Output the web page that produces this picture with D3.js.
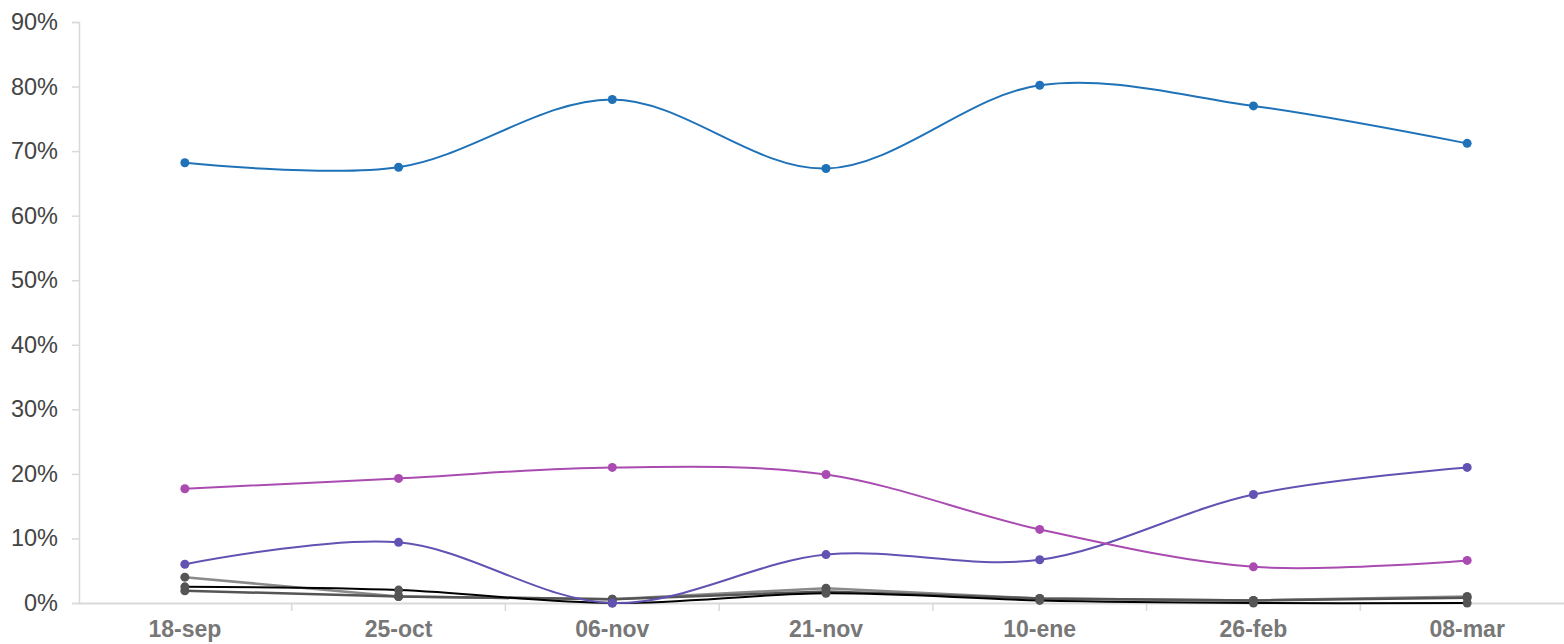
<!DOCTYPE html>
<html><head><meta charset="utf-8">
<script src="https://cdn.jsdelivr.net/npm/d3@7"></script>
<style>body{margin:0;background:#fff;font-family:Arial,"Liberation Sans",sans-serif}</style>
</head><body><svg id="c" width="1564" height="644"></svg>
<script>
const categories = ["18-sep","25-oct","06-nov","21-nov","10-ene","26-feb","08-mar"];
const blueSeries = [68.2,67.5,78.0,67.3,80.2,77.0,71.2];
const magentaSeries = [17.7,19.3,21.0,19.9,11.4,5.6,6.6];
const purpleSeries = [6.0,9.4,0.0,7.5,6.7,16.8,21.0];
const lightGraySeries = [4.0,1.0,0.6,2.3,0.7,0.4,1.0];
const darkGraySeries = [1.9,1.0,0.6,1.8,0.7,0.4,0.8];
const blackSeries = [2.5,2.0,0.0,1.5,0.4,0.0,0.0];
const yTicks = [0,10,20,30,40,50,60,70,80,90];

const svg = d3.select("#c");
const x = d3.scaleBand().domain(categories).range([78,1574]);
const y = d3.scaleLinear().domain([0,90]).range([603,22]);
const cx = d => x(d) + x.bandwidth()/2;

// y axis
const yAxis = svg.append("g").attr("transform","translate(79,0)")
  .call(d3.axisLeft(y).tickValues(yTicks).tickFormat(d=>d+"%").tickSize(7).tickPadding(14));
yAxis.select(".domain").attr("stroke","#d9d9d9").attr("stroke-width",1.5);
yAxis.selectAll(".tick line").attr("stroke","#d9d9d9").attr("stroke-width",1.5);
yAxis.selectAll(".tick text").attr("fill","#444").style("font-size","23.5px").style("font-family","Arial, Liberation Sans, sans-serif");

// x axis
const xAxis = svg.append("g").attr("transform","translate(0,603)")
  .call(d3.axisBottom(x).tickSize(0).tickPadding(18));
xAxis.select(".domain").attr("stroke","#d9d9d9").attr("stroke-width",2);
xAxis.selectAll(".tick text").attr("fill","#777").style("font-size","23px").style("font-weight","bold").style("font-family","Arial, Liberation Sans, sans-serif");
// separator ticks between categories
svg.append("g").selectAll("line").data(categories.slice(1)).join("line")
  .attr("x1",d=>x(d)).attr("x2",d=>x(d)).attr("y1",603).attr("y2",611)
  .attr("stroke","#d9d9d9").attr("stroke-width",1.5);

const series = [
  {vals:lightGraySeries, color:"#8a8a8a", marker:"#555", curve:d3.curveLinear, w:2.5},
  {vals:darkGraySeries, color:"#555", marker:"#555", curve:d3.curveLinear, w:2.5},
  {vals:blackSeries, color:"#000", marker:"#555", curve:d3.curveCatmullRom.alpha(0.5), w:2},
  {vals:purpleSeries, color:"#6152b3", marker:"#6152b3", curve:d3.curveCatmullRom.alpha(0.5), w:2},
  {vals:magentaSeries, color:"#a94bb0", marker:"#a94bb0", curve:d3.curveCatmullRom.alpha(0.5), w:2},
  {vals:blueSeries, color:"#1f72b8", marker:"#1f72b8", curve:d3.curveCatmullRom.alpha(0.5), w:2}
];
series.forEach(s=>{
  const pts = categories.map((c,i)=>[cx(c), y(s.vals[i])]);
  svg.append("path").attr("d", d3.line().curve(s.curve)(pts))
    .attr("fill","none").attr("stroke",s.color).attr("stroke-width",s.w);
  svg.append("g").selectAll("circle").data(pts).join("circle")
    .attr("cx",d=>d[0]).attr("cy",d=>d[1]).attr("r",4.5).attr("fill",s.marker);
});
</script></body></html>
